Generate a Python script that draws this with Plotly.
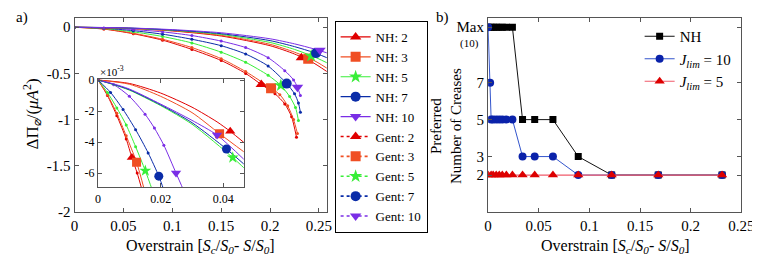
import plotly.graph_objects as go

W, H = 760, 255
FONT = "Liberation Serif, Times New Roman, DejaVu Serif, serif"
ML, MR, MT, MB = 0, 0, 10, 51
PH = H - MT - MB  # plot-area height in px

# ---------------- data: panel a (main) ----------------
jlims = ["2", "3", "5", "7", "10"]
colors = ["#e00000", "#f04e23", "#38ee38", "#0a2ca8", "#7a2ee6"]
symbols = ["triangle-up", "square", "star", "circle", "triangle-down"]

nh_x = [0, 0.05, 0.1, 0.15, 0.2, 0.225, 0.245, 0.265]
nh2_y = [0, -0.01, -0.04, -0.095, -0.2, -0.29, -0.39, -0.53]
nh3_y = [0, -0.009, -0.037, -0.088, -0.185, -0.27, -0.36, -0.49]
nh5_y = [0, -0.008, -0.033, -0.078, -0.165, -0.24, -0.32, -0.42]
nh7_y = [0, -0.007, -0.03, -0.07, -0.145, -0.21, -0.275, -0.36]
nh10_y = [0, -0.006, -0.026, -0.06, -0.125, -0.18, -0.235, -0.30]
nh_mark_x = [0.232, 0.239, 0.242, 0.247, 0.251]
nh_mark_y = [-0.33, -0.34, -0.31, -0.28, -0.25]

gent2_x = [0, 0.03, 0.06, 0.09, 0.12, 0.15, 0.175, 0.191, 0.205, 0.215, 0.222, 0.227]
gent2_y = [0, -0.02, -0.07, -0.14, -0.24, -0.36, -0.5, -0.62, -0.72, -0.83, -0.97, -1.19]
gent3_x = [0, 0.03, 0.06, 0.09, 0.12, 0.15, 0.175, 0.201, 0.21, 0.218, 0.224, 0.228]
gent3_y = [0, -0.018, -0.065, -0.13, -0.22, -0.34, -0.48, -0.66, -0.73, -0.85, -1.0, -1.15]
gent5_x = [0, 0.03, 0.06, 0.09, 0.12, 0.15, 0.175, 0.198, 0.211, 0.22, 0.226, 0.229]
gent5_y = [0, -0.014, -0.05, -0.1, -0.17, -0.27, -0.38, -0.52, -0.63, -0.75, -0.87, -1.01]
gent7_x = [0, 0.03, 0.06, 0.09, 0.12, 0.15, 0.175, 0.198, 0.217, 0.225, 0.229, 0.231]
gent7_y = [0, -0.01, -0.037, -0.075, -0.13, -0.2, -0.29, -0.42, -0.61, -0.72, -0.82, -0.92]
gent10_x = [0, 0.03, 0.06, 0.09, 0.12, 0.15, 0.175, 0.198, 0.215, 0.224, 0.228, 0.231]
gent10_y = [0, -0.007, -0.025, -0.05, -0.09, -0.15, -0.22, -0.33, -0.47, -0.57, -0.65, -0.74]
gent_mark_x = [0.191, 0.201, 0.211, 0.217, 0.228]
gent_mark_y = [-0.62, -0.66, -0.63, -0.61, -0.65]

# ---------------- data: panel a (inset, y in 1e-3) ----------------
in_nh2_x = [0, 0.01, 0.02, 0.03, 0.038, 0.0422, 0.047]
in_nh2_y = [0, -0.22, -0.84, -1.75, -2.7, -3.31, -4.1]
in_nh3_x = [0, 0.01, 0.02, 0.03, 0.0388, 0.047]
in_nh3_y = [0, -0.27, -1.05, -2.1, -3.46, -4.7]
in_nh5_x = [0, 0.005, 0.01, 0.02, 0.03, 0.043, 0.047]
in_nh5_y = [0, -0.3, -0.65, -1.65, -2.85, -5.0, -5.75]
in_nh7_x = [0, 0.005, 0.01, 0.02, 0.03, 0.041, 0.047]
in_nh7_y = [0, -0.28, -0.62, -1.6, -2.75, -4.45, -5.5]
in_nh10_x = [0, 0.005, 0.01, 0.02, 0.03, 0.038, 0.047]
in_nh10_y = [0, -0.25, -0.58, -1.55, -2.6, -3.55, -5.2]
in_nh_mark_x = [0.0422, 0.0388, 0.043, 0.041, 0.038]
in_nh_mark_y = [-3.31, -3.46, -5.0, -4.45, -3.55]

in_gent2_x = [0, 0.003, 0.006, 0.009, 0.0108, 0.0125, 0.0142]
in_gent2_y = [0, -1.0, -2.3, -3.8, -5.0, -6.0, -7.2]
in_gent3_x = [0, 0.003, 0.006, 0.009, 0.0123, 0.0148]
in_gent3_y = [0, -0.95, -2.15, -3.6, -5.3, -7.1]
in_gent5_x = [0, 0.003, 0.006, 0.009, 0.012, 0.0151, 0.0175]
in_gent5_y = [0, -0.8, -1.8, -2.9, -4.3, -5.85, -7.2]
in_gent7_x = [0, 0.004, 0.008, 0.012, 0.016, 0.0194, 0.021]
in_gent7_y = [0, -0.8, -1.9, -3.2, -4.7, -6.2, -7.1]
in_gent10_x = [0, 0.005, 0.01, 0.015, 0.018, 0.021, 0.0249, 0.0275]
in_gent10_y = [0, -0.3, -1.05, -2.2, -3.1, -4.2, -6.0, -7.2]
in_gent_mark_x = [0.0108, 0.0123, 0.0151, 0.0194, 0.0249]
in_gent_mark_y = [-5.0, -5.3, -5.85, -6.2, -6.0]

# ---------------- data: panel b ----------------
b_x = [0, 0.003, 0.005, 0.008, 0.011, 0.014, 0.018, 0.024, 0.034, 0.046, 0.064, 0.089, 0.122, 0.168, 0.231]
nh_creases = [10, 10, 10, 10, 10, 10, 10, 10, 5, 5, 5, 3, 2, 2, 2]
j10_x = [0, 0.002, 0.003, 0.005, 0.008, 0.011, 0.014, 0.018, 0.024, 0.034, 0.046, 0.064, 0.089, 0.122, 0.168, 0.231]
j10_creases = [10, 7, 5, 5, 5, 5, 5, 5, 5, 3, 3, 3, 2, 2, 2, 2]
j5_creases = [2, 2, 2, 2, 2, 2, 2, 2, 2, 2, 2, 2, 2, 2, 2]
b_ytick_vals = [2, 3, 5, 7, 10]
b_ytick_text = ["2", "3", "5", "7", "Max"]

main_xt = [0, 0.05, 0.1, 0.15, 0.2, 0.25]
main_xt_text = ["0", "0.05", "0.1", "0.15", "0.2", "0.25"]
main_yt = [0, -0.5, -1, -1.5, -2]
main_yt_text = ["0", "-0.5", "-1", "-1.5", "-2"]
in_xt = [0, 0.02, 0.04]
in_xt_text = ["0", "0.02", "0.04"]
in_yt = [0, -2, -4, -6]
in_yt_text = ["0", "-2", "-4", "-6"]
b_xt = [0, 0.05, 0.1, 0.15, 0.2, 0.25]
b_xt_text = ["0", "0.05", "0.1", "0.15", "0.2", "0.25"]


def px_x(p):
    return p / W


def px_y(p):
    return (H - MB - p) / PH


fig = go.Figure()

nh_main = [nh2_y, nh3_y, nh5_y, nh7_y, nh10_y]
gent_main = [(gent2_x, gent2_y), (gent3_x, gent3_y), (gent5_x, gent5_y),
             (gent7_x, gent7_y), (gent10_x, gent10_y)]
in_nh = [(in_nh2_x, in_nh2_y), (in_nh3_x, in_nh3_y), (in_nh5_x, in_nh5_y),
         (in_nh7_x, in_nh7_y), (in_nh10_x, in_nh10_y)]
in_gent = [(in_gent2_x, in_gent2_y), (in_gent3_x, in_gent3_y), (in_gent5_x, in_gent5_y),
           (in_gent7_x, in_gent7_y), (in_gent10_x, in_gent10_y)]

# main curves
for i in range(5):
    gx, gy = gent_main[i]
    fig.add_trace(go.Scatter(x=gx, y=gy, mode="lines+markers", xaxis="x", yaxis="y",
                             line=dict(color=colors[i], width=1, shape="spline", smoothing=0.7),
                             marker=dict(size=3, color=colors[i]), showlegend=False, hoverinfo="skip"))
for i in range(5):
    fig.add_trace(go.Scatter(x=nh_x, y=nh_main[i], mode="lines", xaxis="x", yaxis="y",
                             line=dict(color=colors[i], width=1, shape="spline", smoothing=0.7),
                             showlegend=False, hoverinfo="skip"))
# main markers + legend entries
for i in range(5):
    fig.add_trace(go.Scatter(x=[nh_mark_x[i]], y=[nh_mark_y[i]], mode="lines+markers",
                             xaxis="x", yaxis="y", name="NH: " + jlims[i], legend="legend",
                             line=dict(color=colors[i], width=1.2),
                             marker=dict(symbol=symbols[i], size=10, color=colors[i])))
for i in range(5):
    fig.add_trace(go.Scatter(x=[gent_mark_x[i]], y=[gent_mark_y[i]], mode="lines+markers",
                             xaxis="x", yaxis="y", name="Gent: " + jlims[i], legend="legend",
                             line=dict(color=colors[i], width=1.6, dash="dot"),
                             marker=dict(symbol=symbols[i], size=10, color=colors[i])))

# inset curves
for i in range(5):
    gx, gy = in_gent[i]
    fig.add_trace(go.Scatter(x=gx, y=gy, mode="lines+markers", xaxis="x2", yaxis="y2",
                             line=dict(color=colors[i], width=1, shape="spline", smoothing=0.7),
                             marker=dict(size=3, color=colors[i]), showlegend=False, hoverinfo="skip"))
for i in range(5):
    nx, ny = in_nh[i]
    fig.add_trace(go.Scatter(x=nx, y=ny, mode="lines", xaxis="x2", yaxis="y2",
                             line=dict(color=colors[i], width=1, shape="spline", smoothing=0.7),
                             showlegend=False, hoverinfo="skip"))
for i in range(5):
    fig.add_trace(go.Scatter(x=[in_nh_mark_x[i], in_gent_mark_x[i]],
                             y=[in_nh_mark_y[i], in_gent_mark_y[i]], mode="markers",
                             xaxis="x2", yaxis="y2", showlegend=False, hoverinfo="skip",
                             marker=dict(symbol=symbols[i], size=9, color=colors[i])))

# panel b
fig.add_trace(go.Scatter(x=b_x, y=nh_creases, mode="lines+markers", xaxis="x3", yaxis="y3",
                         name="NH", legend="legend2",
                         line=dict(color="#111111", width=1),
                         marker=dict(symbol="square", size=7, color="#000000")))
fig.add_trace(go.Scatter(x=j10_x, y=j10_creases, mode="lines+markers", xaxis="x3", yaxis="y3",
                         name="<i>J</i><sub><i>lim</i></sub> = 10", legend="legend2",
                         line=dict(color="#3355cc", width=1),
                         marker=dict(symbol="circle", size=8, color="#0a22aa")))
fig.add_trace(go.Scatter(x=b_x, y=j5_creases, mode="lines+markers", xaxis="x3", yaxis="y3",
                         name="<i>J</i><sub><i>lim</i></sub> = 5", legend="legend2",
                         line=dict(color="#f05a6a", width=1.2),
                         marker=dict(symbol="triangle-up", size=9, color="#dd0000")))

axcommon = dict(showline=True, linecolor="#555555", linewidth=1.2, mirror="ticks",
                ticks="inside", ticklen=4, tickcolor="#555555", showgrid=False, zeroline=False,
                tickfont=dict(family=FONT, size=15, color="black"))
insetax = {**axcommon, "tickfont": dict(family=FONT, size=12, color="black")}

fig.update_layout(
    width=W, height=H, margin=dict(l=ML, r=MR, t=MT, b=MB),
    paper_bgcolor="white", plot_bgcolor="white",
    font=dict(family=FONT, color="black"),
    xaxis=dict(domain=[px_x(64), px_x(322)], anchor="y", range=[0, 0.258],
               tickvals=main_xt, ticktext=main_xt_text, **axcommon),
    yaxis=dict(domain=[0, 1], anchor="x", range=[-2, 0.1],
               tickvals=main_yt, ticktext=main_yt_text, **axcommon),
    xaxis2=dict(domain=[px_x(88), px_x(237)], anchor="y2", range=[0, 0.0465],
                tickvals=in_xt, ticktext=in_xt_text, **insetax),
    yaxis2=dict(domain=[px_y(179), px_y(70.5)], anchor="x2", range=[-6.9, 0.1],
                tickvals=in_yt, ticktext=in_yt_text, **insetax),
    xaxis3=dict(domain=[px_x(487), px_x(746)], anchor="y3", range=[0, 0.25],
                tickvals=b_xt, ticktext=b_xt_text, **axcommon),
    yaxis3=dict(domain=[0, 1], anchor="x3", range=[0, 10.5],
                tickvals=b_ytick_vals, ticktext=b_ytick_text, **axcommon),
    legend=dict(x=px_x(330), y=px_y(13), xanchor="left", yanchor="top",
                bordercolor="black", borderwidth=1, bgcolor="white",
                font=dict(family=FONT, size=13, color="black"),
                tracegroupgap=0, itemwidth=30, maxheight=400),
    legend2=dict(x=px_x(642), y=px_y(12), xanchor="left", yanchor="top",
                 bgcolor="rgba(0,0,0,0)", borderwidth=0,
                 font=dict(family=FONT, size=15, color="black"),
                 tracegroupgap=0, itemwidth=30),
    shapes=[dict(type="rect", xref="x2", yref="y2", x0=0, x1=0.0465, y0=-6.9, y1=0.1,
                 fillcolor="white", line=dict(width=0), layer="below")],
    annotations=[
        dict(text="a)", x=px_x(2), y=px_y(9), xref="paper", yref="paper", showarrow=False,
             xanchor="left", yanchor="middle", font=dict(family=FONT, size=15)),
        dict(text="b)", x=px_x(432), y=px_y(9), xref="paper", yref="paper", showarrow=False,
             xanchor="left", yanchor="middle", font=dict(family=FONT, size=15)),
        dict(text="×10<sup>-3</sup>", x=px_x(88), y=px_y(63), xref="paper", yref="paper",
             showarrow=False, xanchor="left", yanchor="middle", font=dict(family=FONT, size=11)),
        dict(text="(10)", x=px_x(468), y=px_y(35), xref="paper", yref="paper",
             showarrow=False, xanchor="center", yanchor="middle", font=dict(family=FONT, size=11)),
        dict(text="Overstrain [<i>S</i><sub><i>c</i></sub>/<i>S</i><sub><i>0</i></sub>- <i>S</i>/<i>S</i><sub><i>0</i></sub>]",
             x=px_x(193), y=px_y(238), xref="paper", yref="paper", showarrow=False,
             xanchor="center", yanchor="middle", font=dict(family=FONT, size=16)),
        dict(text="Overstrain [<i>S</i><sub><i>c</i></sub>/<i>S</i><sub><i>0</i></sub>- <i>S</i>/<i>S</i><sub><i>0</i></sub>]",
             x=px_x(617), y=px_y(238), xref="paper", yref="paper", showarrow=False,
             xanchor="center", yanchor="middle", font=dict(family=FONT, size=16)),
        dict(text="ΔΠ<sub>⌀</sub>/(<i>μA</i><sup>2</sup>)", x=px_x(20), y=px_y(106),
             xref="paper", yref="paper", showarrow=False, textangle=-90,
             xanchor="center", yanchor="middle", font=dict(family=FONT, size=17)),
        dict(text="Preferred<br>Number of Creases", x=px_x(444), y=px_y(118),
             xref="paper", yref="paper", showarrow=False, textangle=-90,
             xanchor="center", yanchor="middle", font=dict(family=FONT, size=15)),
    ],
)

fig.write_html("out.html")
